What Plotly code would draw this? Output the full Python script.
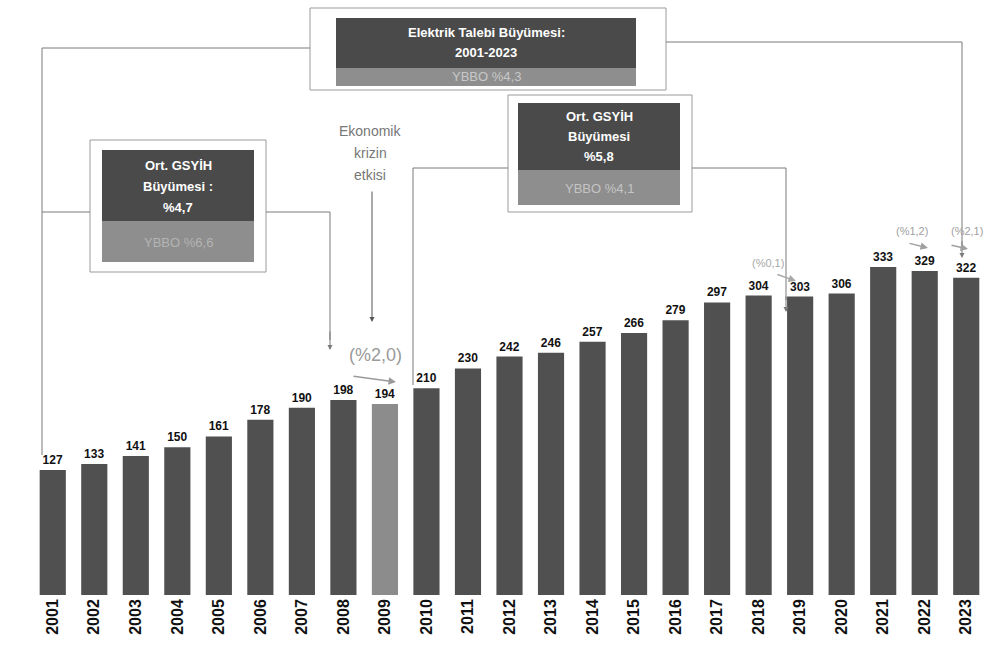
import plotly.graph_objects as go

years = [str(y) for y in range(2001, 2024)]
demand = [127, 133, 141, 150, 161, 178, 190, 198, 194, 210, 230, 242, 246, 257,
          266, 279, 297, 304, 303, 306, 333, 329, 322]
bar_colors = ["#505050"] * len(years)
bar_colors[years.index("2009")] = "#8c8c8c"

W_FIG, H_FIG = 992, 659
L, R, T, B = 32, 5, 0, 64
PW = W_FIG - L - R
PH = H_FIG - T - B
FONT = "Liberation Sans, Arial"


def px(x):
    return (x - L) / PW


def py(y):
    return (H_FIG - B - y) / PH


fig = go.Figure()
fig.add_trace(go.Bar(
    x=years, y=demand, marker=dict(color=bar_colors, line=dict(width=0)),
    width=0.63, text=[f"<b>{v}</b>" for v in demand], textposition="outside",
    textfont=dict(family=FONT, size=12, color="#111111"),
    cliponaxis=False, hoverinfo="x+y"))

shapes = []
annos = []
LINE = dict(color="#7a7a7a", width=1)


def rect(x0, y0, x1, y1, fill=None, line=None):
    shapes.append(dict(type="rect", xref="paper", yref="paper",
                       x0=px(x0), x1=px(x1), y0=py(y1), y1=py(y0),
                       fillcolor=fill or "rgba(0,0,0,0)",
                       line=line or dict(width=0), layer="above"))


def path(points):
    d = "M " + " L ".join(f"{px(a)},{py(b)}" for a, b in points)
    shapes.append(dict(type="path", xref="paper", yref="paper", path=d, line=LINE))


def text(x, y, s, size=11, color="white"):
    annos.append(dict(xref="paper", yref="paper", x=px(x), y=py(y), text=s,
                      showarrow=False, xanchor="center", yanchor="middle",
                      font=dict(family=FONT, size=size, color=color),
                      align="center"))


def arrow(x0, y0, x1, y1, color="#7a7a7a", w=1, size=1):
    annos.append(dict(xref="paper", yref="paper", axref="pixel", ayref="pixel",
                      x=px(x1), y=py(y1), ax=x0 - x1, ay=y0 - y1, text="",
                      showarrow=True, arrowhead=2, arrowsize=size, arrowwidth=w,
                      arrowcolor=color))


DARK = "#4a4a4a"
LIGHT = "#8e8e8e"
FRAME = dict(color="#9a9a9a", width=1)

# Top box
rect(310, 8, 666, 90, line=FRAME)
rect(336, 18, 636, 68, fill=DARK)
rect(336, 68, 636, 86, fill=LIGHT)
text(486, 32, "<b>Elektrik Talebi Büyümesi:</b>", 13)
text(486, 52, "<b>2001-2023</b>", 13)
text(486, 77, "YBBO %4,3", 13, color="#c8c8c8")
path([(310, 48), (42, 48), (42, 455)])
path([(666, 42), (962, 42), (962, 250)])
arrow(962, 240, 962, 258)

# Left box
rect(90, 140, 266, 272, line=FRAME)
rect(102, 150, 254, 221, fill=DARK)
rect(102, 221, 254, 262, fill=LIGHT)
text(178, 165, "<b>Ort. GSYİH</b>", 13)
text(178, 186, "<b>Büyümesi :</b>", 13)
text(178, 207, "<b>%4,7</b>", 13)
text(178, 242, "YBBO %6,6", 13, color="#b4b4b4")
path([(42, 212), (90, 212)])
path([(266, 212), (330, 212), (330, 340)])
arrow(330, 330, 330, 350)

# Right box
rect(508, 95, 692, 212, line=FRAME)
rect(518, 103, 680, 170, fill=DARK)
rect(518, 170, 680, 205, fill=LIGHT)
text(599, 117, "<b>Ort. GSYİH</b>", 13)
text(599, 137, "<b>Büyümesi</b>", 13)
text(599, 157, "<b>%5,8</b>", 13)
text(599, 188, "YBBO %4,1", 13, color="#c4c4c4")
path([(508, 168), (413, 168), (413, 385)])
path([(692, 168), (786, 168), (786, 300)])
arrow(786, 295, 786, 312)

# Crisis note
text(370, 131, "Ekonomik", 14, color="#777777")
text(370, 153, "krizin", 14, color="#777777")
text(370, 175, "etkisi", 14, color="#777777")
arrow(372, 190, 372, 322, color="#555555")

# Decline notes
text(375, 355, "(%2,0)", 18, color="#9a9a9a")
arrow(352, 376, 396, 382, color="#9a9a9a", w=1.5)
text(768, 263, "(%0,1)", 11, color="#a8a8a8")
arrow(776, 274, 796, 281, color="#a8a8a8", w=1.5)
text(912, 231, "(%1,2)", 11, color="#a0a0a0")
arrow(908, 243, 928, 248, color="#a0a0a0", w=1.5)
text(967, 231, "(%2,1)", 11, color="#a0a0a0")
arrow(950, 245, 968, 249, color="#a0a0a0", w=1.5)

fig.update_layout(
    width=W_FIG, height=H_FIG,
    margin=dict(l=L, r=R, t=T, b=B),
    paper_bgcolor="white", plot_bgcolor="white",
    showlegend=False, bargap=0.37,
    shapes=shapes, annotations=annos,
    xaxis=dict(type="category", range=[-0.5, 22.5], tickangle=-90,
               tickfont=dict(family=FONT, size=16, color="#111111"),
               showgrid=False, zeroline=False, showline=False, ticks=""),
    yaxis=dict(range=[0, 604], visible=False, showgrid=False),
)
fig.update_xaxes(ticktext=[f"<b>{y}</b>" for y in years], tickvals=years)

fig.write_html("out.html", config={"displayModeBar": False},
               post_script="document.body.style.margin='0';document.body.style.overflow='hidden';")
